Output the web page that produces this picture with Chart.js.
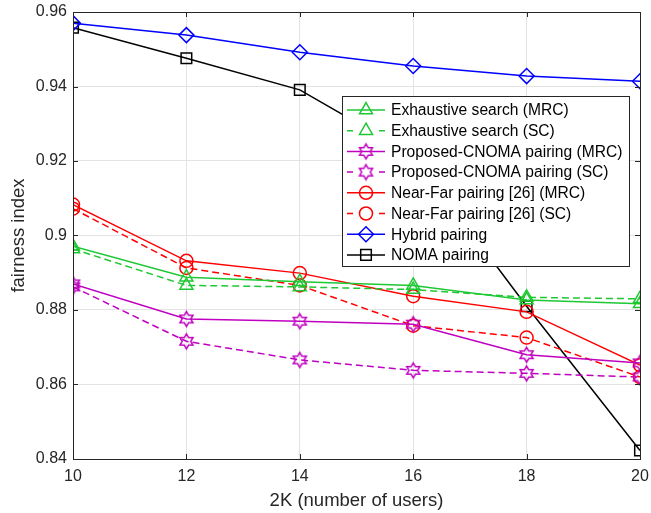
<!DOCTYPE html>
<html>
<head>
<meta charset="utf-8">
<script src="https://cdn.jsdelivr.net/npm/chart.js@4/dist/chart.umd.min.js"></script>
<style>
  html, body { margin: 0; padding: 0; background: #fff; }
  #wrap { width: 651px; height: 513px; }
</style>
</head>
<body>
<div id="wrap"><canvas id="fairness-chart" width="651" height="513"></canvas></div>
<script>
// Eixo X: numero de usuarios (2K)
var users = [10, 12, 14, 16, 18, 20];
var yTicks = [0.84, 0.86, 0.88, 0.90, 0.92, 0.94, 0.96];

// Series
var exhaustiveMRC = [0.8971, 0.8888, 0.8876, 0.8866, 0.8827, 0.8817];
var exhaustiveSC  = [0.8964, 0.8866, 0.8862, 0.8855, 0.8834, 0.8830];
var proposedMRC   = [0.8870, 0.8776, 0.8770, 0.8762, 0.8680, 0.8658];
var proposedSC    = [0.8862, 0.8716, 0.8666, 0.8638, 0.8630, 0.8620];
var nearFarMRC    = [0.9083, 0.8932, 0.8899, 0.8837, 0.8795, 0.8652];
var nearFarSC     = [0.9072, 0.8913, 0.8866, 0.8758, 0.8726, 0.8620];
var hybrid        = [0.9570, 0.9538, 0.9492, 0.9455, 0.9428, 0.9414];
var noma          = [0.9558, 0.9476, 0.9391, 0.9216, 0.8810, 0.8423];

var labels = [
    'Exhaustive search (MRC)',
    'Exhaustive search (SC)',
    'Proposed-CNOMA pairing (MRC)',
    'Proposed-CNOMA pairing (SC)',
    'Near-Far pairing [26] (MRC)',
    'Near-Far pairing [26] (SC)',
    'Hybrid pairing',
    'NOMA pairing'
];

var GREEN = '#1ec832';
var MAGENTA = '#c000c0';
var RED = '#ff0000';
var BLUE = '#0000ff';
var BLACK = '#000000';
var FONT = "'Liberation Sans', Arial, Helvetica, sans-serif";

/**
 * Criar marcador hexagrama (estrela de 6 pontas) num canvas
 */
function makeHexagram(color, r) {
    var size = Math.ceil(r * 2 + 4);
    var c = document.createElement('canvas');
    c.width = size;
    c.height = size;
    var ctx = c.getContext('2d');
    var cx = size / 2, cy = size / 2;
    var ri = r / Math.sqrt(3);
    ctx.beginPath();
    for (var i = 0; i < 12; i++) {
        var a = -Math.PI / 2 + i * Math.PI / 6;
        var rr = (i % 2 === 0) ? r : ri;
        var px = cx + rr * Math.cos(a);
        var py = cy + rr * Math.sin(a);
        if (i === 0) ctx.moveTo(px, py); else ctx.lineTo(px, py);
    }
    ctx.closePath();
    ctx.strokeStyle = color;
    ctx.lineWidth = 1.5;
    ctx.stroke();
    return c;
}

var hexMagenta = makeHexagram(MAGENTA, 7.5);

function toPoints(values) {
    return values.map(function(v, i) { return { x: users[i], y: v }; });
}

function makeDataset(label, values, color, style, radius, dashed) {
    return {
        label: label,
        data: toPoints(values),
        borderColor: color,
        backgroundColor: color,
        borderWidth: 1.5,
        borderDash: dashed ? [7, 4] : [],
        pointStyle: style,
        pointRadius: radius,
        pointHoverRadius: radius,
        pointBorderColor: color,
        pointBackgroundColor: 'rgba(0,0,0,0)',
        pointBorderWidth: 1.5,
        tension: 0,
        fill: false
    };
}

var datasets = [
    makeDataset(labels[0], exhaustiveMRC, GREEN, 'triangle', 7.5, false),
    makeDataset(labels[1], exhaustiveSC, GREEN, 'triangle', 7.5, true),
    makeDataset(labels[2], proposedMRC, MAGENTA, hexMagenta, 7.5, false),
    makeDataset(labels[3], proposedSC, MAGENTA, hexMagenta, 7.5, true),
    makeDataset(labels[4], nearFarMRC, RED, 'circle', 6.5, false),
    makeDataset(labels[5], nearFarSC, RED, 'circle', 6.5, true),
    makeDataset(labels[6], hybrid, BLUE, 'rectRot', 7.5, false),
    makeDataset(labels[7], noma, BLACK, 'rect', 7.5, false)
];

/**
 * Plugin: moldura do eixo e marcas de escala para dentro (estilo MATLAB)
 */
var axesBoxPlugin = {
    id: 'axesBox',
    afterDatasetsDraw: function(chart) {
        var ctx = chart.ctx;
        var a = chart.chartArea;
        var xs = chart.scales.x, ys = chart.scales.y;
        ctx.save();
        ctx.strokeStyle = '#262626';
        ctx.lineWidth = 1;
        ctx.beginPath();
        ctx.rect(Math.round(a.left) + 0.5, Math.round(a.top) + 0.5,
            Math.round(a.right - a.left), Math.round(a.bottom - a.top));
        ctx.stroke();
        var tl = 5;
        ctx.beginPath();
        users.forEach(function(u) {
            var px = Math.round(xs.getPixelForValue(u)) + 0.5;
            ctx.moveTo(px, a.bottom); ctx.lineTo(px, a.bottom - tl);
            ctx.moveTo(px, a.top); ctx.lineTo(px, a.top + tl);
        });
        yTicks.forEach(function(t) {
            var py = Math.round(ys.getPixelForValue(t)) + 0.5;
            ctx.moveTo(a.left, py); ctx.lineTo(a.left + tl, py);
            ctx.moveTo(a.right, py); ctx.lineTo(a.right - tl, py);
        });
        ctx.stroke();
        ctx.restore();
    }
};

/**
 * Plugin: legenda dentro da area do grafico
 */
var boxLegendPlugin = {
    id: 'boxLegend',
    afterDraw: function(chart) {
        var ctx = chart.ctx;
        var x0 = 342.5, y0 = 96.5, w = 287, h = 170;
        var rowH = 20.7, firstY = 110;
        ctx.save();
        ctx.fillStyle = '#ffffff';
        ctx.fillRect(x0, y0, w, h);
        ctx.strokeStyle = '#262626';
        ctx.lineWidth = 1;
        ctx.strokeRect(x0, y0, w, h);

        chart.data.datasets.forEach(function(ds, i) {
            var cy = firstY + i * rowH;
            var lx1 = 347, lx2 = 385, mx = 366;
            ctx.strokeStyle = ds.borderColor;
            ctx.lineWidth = 1.5;
            ctx.setLineDash([]);
            ctx.beginPath();
            if (ds.borderDash.length) {
                ctx.moveTo(lx1, cy); ctx.lineTo(lx1 + 6, cy);
                ctx.moveTo(lx2 - 6, cy); ctx.lineTo(lx2, cy);
            } else {
                ctx.moveTo(lx1, cy); ctx.lineTo(lx2, cy);
            }
            ctx.stroke();
            ctx.fillStyle = 'rgba(0,0,0,0)';
            Chart.helpers.drawPoint(ctx, {
                pointStyle: ds.pointStyle,
                radius: ds.pointRadius,
                rotation: 0,
                borderWidth: 1.5
            }, mx, cy);
            ctx.fillStyle = '#000000';
            ctx.font = '15.6px ' + FONT;
            ctx.textBaseline = 'middle';
            ctx.textAlign = 'left';
            ctx.fillText(ds.label, 391, cy + 1);
        });
        ctx.restore();
    }
};

var ctx = document.getElementById('fairness-chart').getContext('2d');
var fairnessChart = new Chart(ctx, {
    type: 'line',
    data: { datasets: datasets },
    plugins: [axesBoxPlugin, boxLegendPlugin],
    options: {
        responsive: false,
        animation: false,
        layout: { padding: { top: 12, right: 11, left: 0, bottom: 0 } },
        plugins: {
            legend: { display: false },
            tooltip: { enabled: false }
        },
        scales: {
            x: {
                type: 'linear',
                min: 10,
                max: 20,
                afterBuildTicks: function(scale) {
                    scale.ticks = users.map(function(u) { return { value: u }; });
                },
                afterFit: function(scale) {
                    scale.height = 54;
                    scale.paddingLeft = 0;
                    scale.paddingRight = 0;
                },
                grid: { color: '#e3e3e3', drawTicks: false },
                border: { color: '#262626' },
                ticks: {
                    color: '#262626',
                    padding: 8,
                    maxRotation: 0,
                    font: { family: FONT, size: 16 }
                },
                title: {
                    display: true,
                    text: '2K (number of users)',
                    color: '#262626',
                    padding: { top: 0, bottom: 1 },
                    font: { family: FONT, size: 18.5 }
                }
            },
            y: {
                min: 0.84,
                max: 0.96,
                afterBuildTicks: function(scale) {
                    scale.ticks = yTicks.map(function(t) { return { value: t }; });
                },
                afterFit: function(scale) {
                    scale.width = 73;
                    scale.paddingTop = 0;
                    scale.paddingBottom = 0;
                },
                grid: { color: '#e3e3e3', drawTicks: false },
                border: { color: '#262626' },
                ticks: {
                    color: '#262626',
                    padding: 6,
                    font: { family: FONT, size: 16 },
                    callback: function(v) { return String(Number(v.toFixed(2))); }
                },
                title: {
                    display: true,
                    text: 'fairness index',
                    color: '#262626',
                    padding: { top: 8, bottom: 0 },
                    font: { family: FONT, size: 18.5 }
                }
            }
        }
    }
});
</script>
</body>
</html>
